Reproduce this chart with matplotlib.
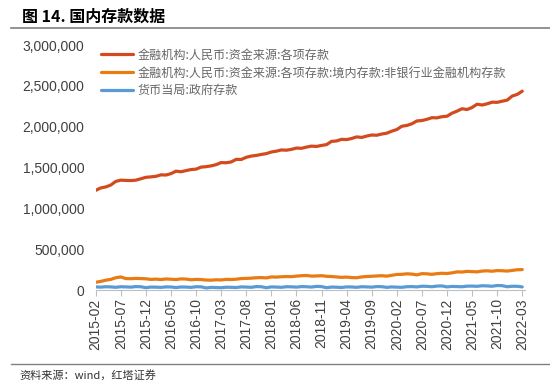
import numpy as np
import pandas as pd
import matplotlib
matplotlib.use("Agg")
import matplotlib.pyplot as plt

plt.rcParams['font.family'] = ['Noto Sans CJK SC', 'DejaVu Sans']

# 月度数据 (亿元), 2015-02 ~ 2022-03
months = list(pd.period_range("2015-02", "2022-03", freq="M").strftime("%Y-%m"))

deposits_total = [
    1220000, 1250000, 1262000, 1285000, 1330000, 1345000, 1342000, 1340000, 1345000, 1362000, 1380000,
    1385000, 1392000, 1410000, 1408000, 1425000, 1455000, 1448000, 1462000, 1475000, 1480000, 1505000, 1510000,
    1520000, 1535000, 1560000, 1558000, 1568000, 1600000, 1598000, 1625000, 1640000, 1648000, 1660000, 1670000,
    1690000, 1700000, 1715000, 1712000, 1722000, 1738000, 1735000, 1750000, 1762000, 1758000, 1770000, 1780000,
    1820000, 1825000, 1845000, 1842000, 1855000, 1875000, 1868000, 1885000, 1898000, 1895000, 1910000, 1920000,
    1945000, 1965000, 2005000, 2015000, 2035000, 2070000, 2075000, 2090000, 2110000, 2108000, 2122000, 2128000,
    2165000, 2190000, 2220000, 2210000, 2235000, 2275000, 2265000, 2280000, 2300000, 2298000, 2312000, 2325000,
    2375000, 2395000, 2435000,
]

deposits_nonbank = [
    95000, 105000, 120000, 130000, 150000, 160000, 140000, 138000, 142000, 140000, 137000,
    130000, 133000, 128000, 135000, 132000, 128000, 136000, 134000, 125000, 130000, 128000, 122000,
    120000, 125000, 123000, 130000, 128000, 132000, 140000, 142000, 145000, 150000, 152000, 148000,
    160000, 158000, 162000, 165000, 163000, 170000, 175000, 178000, 170000, 172000, 175000, 168000,
    165000, 160000, 155000, 158000, 152000, 150000, 160000, 165000, 168000, 172000, 175000, 170000,
    180000, 190000, 192000, 198000, 195000, 185000, 200000, 198000, 192000, 200000, 205000, 202000,
    210000, 222000, 220000, 228000, 225000, 222000, 232000, 235000, 230000, 238000, 236000, 232000,
    240000, 248000, 250000,
]

deposits_gov = [
    38000, 35000, 40000, 38000, 33000, 40000, 38000, 35000, 42000, 40000, 28000,
    36000, 35000, 32000, 38000, 37000, 30000, 37000, 36000, 32000, 40000, 39000, 25000,
    32000, 30000, 28000, 34000, 33000, 30000, 38000, 36000, 33000, 42000, 40000, 28000,
    38000, 36000, 33000, 40000, 39000, 35000, 42000, 40000, 36000, 44000, 42000, 28000,
    36000, 34000, 31000, 38000, 37000, 33000, 40000, 38000, 35000, 42000, 41000, 32000,
    38000, 35000, 33000, 40000, 42000, 38000, 46000, 45000, 40000, 48000, 50000, 38000,
    44000, 42000, 40000, 47000, 48000, 45000, 52000, 50000, 46000, 55000, 53000, 40000,
    46000, 45000, 38000,
]

series_names = [
    "金融机构:人民币:资金来源:各项存款",
    "金融机构:人民币:资金来源:各项存款:境内存款:非银行业金融机构存款",
    "货币当局:政府存款",
]
colors = ["#D24A1E", "#E97B12", "#5B9BD5"]

x = np.arange(len(months))

fig = plt.figure(figsize=(5.5, 3.86), dpi=100)
ax = fig.add_axes([0.174, 0.2487, 0.781, 0.6347])

for vals, name, c in zip([deposits_total, deposits_nonbank, deposits_gov], series_names, colors):
    ax.plot(x, vals, color=c, linewidth=2.3, label=name, solid_capstyle="round")

ax.set_xlim(0, len(months) - 0.4)
ax.set_ylim(0, 3000000)
ax.set_yticks(np.arange(0, 3000001, 500000))
ax.yaxis.set_major_formatter(matplotlib.ticker.FuncFormatter(lambda v, p: f"{int(v):,}"))

ax.set_xticks(x[::5])
ax.set_xticklabels(months[::5], rotation=90, family=["Liberation Sans"], fontsize=10, color="#404040")
for lab in ax.get_yticklabels():
    lab.set_family(["Liberation Sans"])
ax.tick_params(axis="y", length=0, labelsize=10, labelcolor="#404040", pad=8)
ax.tick_params(axis="x", length=4, color="#BFBFBF", pad=2)

for s in ["top", "right", "left"]:
    ax.spines[s].set_visible(False)
ax.spines["bottom"].set_color("#BFBFBF")

leg = ax.legend(loc="upper left", bbox_to_anchor=(-0.012, 1.03), frameon=False,
                fontsize=8.7, handlelength=2.6, handletextpad=0.4, labelspacing=0.4)
for t in leg.get_texts():
    t.set_color("#666666")

# 标题与来源
fig.text(0.04, 0.958, "图 14. 国内存款数据", fontsize=11.5, fontweight="bold", va="center", ha="left")
fig.add_artist(plt.Line2D([0.02, 1.0], [0.928, 0.928], color="#808080", linewidth=1.2))
fig.add_artist(plt.Line2D([0.02, 1.0], [0.057, 0.057], color="#808080", linewidth=1.0))
fig.text(0.036, 0.028, "资料来源：wind，红塔证券", fontsize=8, va="center", ha="left", color="#333333")

fig.savefig("out.png", dpi=100)
